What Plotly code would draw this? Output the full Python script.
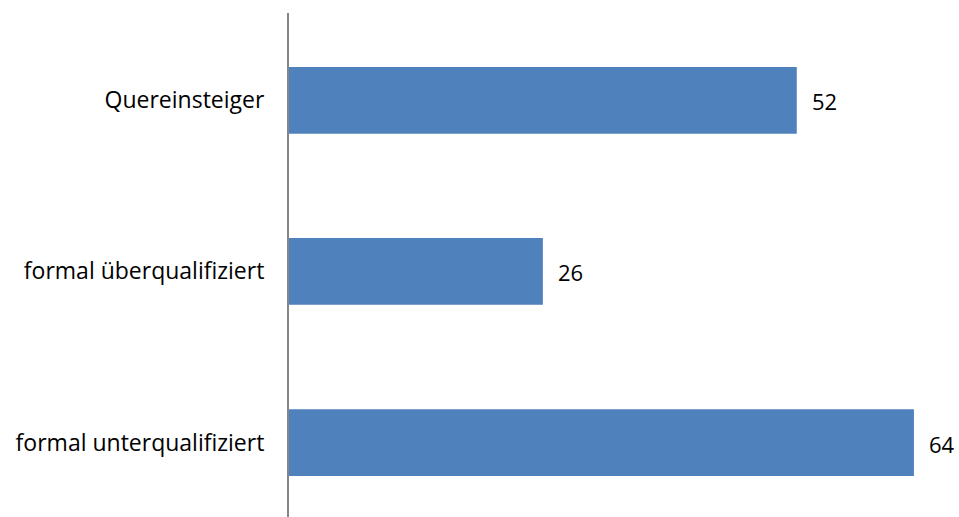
import plotly.graph_objects as go

categories = ["Quereinsteiger", "formal überqualifiziert", "formal unterqualifiziert"]
values = [52, 26, 64]

fig = go.Figure(go.Bar(
    x=values, y=categories, orientation="h",
    marker=dict(color="#4F81BD", line=dict(width=0)),
    hoverinfo="skip",
))
for v, c in zip(values, categories):
    fig.add_annotation(x=v, y=c, text=str(v), showarrow=False,
                       xanchor="left", yanchor="middle", xshift=13, yshift=-1,
                       font=dict(size=22, color="#000000", family="Open Sans"))
fig.update_layout(
    width=959, height=517,
    margin=dict(l=289, r=6, t=13, b=0),
    plot_bgcolor="white", paper_bgcolor="white",
    bargap=0.61,
    showlegend=False,
    font=dict(family="Open Sans", size=23, color="#000000"),
)
fig.update_xaxes(range=[0, 68], visible=False, showgrid=False, zeroline=False)
fig.update_yaxes(
    categoryorder="array", categoryarray=categories,
    range=[2.435, -0.51],
    showline=True, linecolor="#868686", linewidth=2,
    ticks="", ticklabelstandoff=18, showgrid=False,
    tickfont=dict(size=23, family="Open Sans", color="#000000"),
)
fig.write_html("out.html")
